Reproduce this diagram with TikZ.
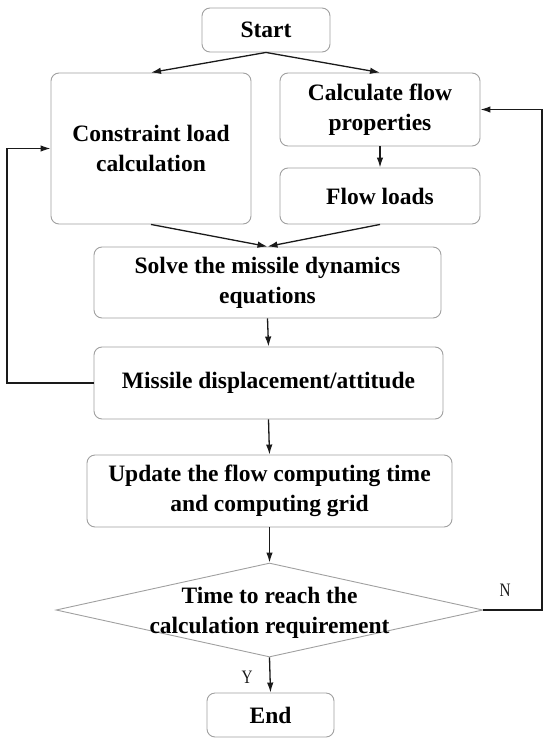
\documentclass[tikz,border=0pt]{standalone}
\usepackage{fontspec}
\setmainfont{Liberation Serif}
\usetikzlibrary{arrows.meta,shapes.geometric,calc}
\definecolor{boxline}{HTML}{A0A0A0}
\definecolor{flowline}{HTML}{1A1A1A}
\tikzset{
  stepbox/.style={draw=boxline, line width=0.9pt, rounded corners=8pt, align=center,
    inner sep=0pt, font=\bfseries\fontsize{23.5}{30}\selectfont},
  decbox/.style={diamond, draw=boxline, line width=0.9pt, inner sep=0pt},
  arr/.style={-{Latex[length=10pt,width=6.5pt]}, line width=1.3pt, draw=flowline},
  yesno/.style={font=\fontsize{19}{19}\selectfont, text=flowline, xscale=0.8}
}

\begin{document}
\begin{tikzpicture}[x=1pt,y=-1pt]
  \useasboundingbox (0,0) rectangle (550,746);
  % boxes
  \node[stepbox, minimum width=128pt, minimum height=44pt] (start) at (266,30) {Start};
  \node[stepbox, minimum width=200pt, minimum height=151pt] (load) at (151,148.5) {Constraint load\\calculation};
  \node[stepbox, minimum width=200pt, minimum height=73pt] (prop) at (380,109.5) {Calculate flow\\properties};
  \node[stepbox, minimum width=200pt, minimum height=56pt] (loads) at (380,196) {Flow loads};
  \node[stepbox, minimum width=347pt, minimum height=71pt] (solve) at (267.5,282.5) {Solve the missile dynamics\\equations};
  \node[stepbox, minimum width=349pt, minimum height=72pt] (disp) at (268.5,383) {Missile displacement/attitude};
  \node[stepbox, minimum width=365pt, minimum height=72pt] (update) at (269.5,491) {Update the flow computing time\\and computing grid};
  \node[decbox, minimum width=427pt, minimum height=94pt,
    label={[stepbox, draw=none, yshift=-3pt]center:Time to reach the\\calculation requirement}] (cond) at (269.5,610) {};
  \node[stepbox, minimum width=127pt, minimum height=44pt] (stop) at (270.5,715) {End};
  \coordinate (loopL) at (7,0);
  \coordinate (loopR) at (542,0);

  % connectors
  \draw[arr] (start.south) -- (load.north);
  \draw[arr] (start.south) -- (prop.north);
  \draw[arr] (prop.south) -- (loads.north);
  \draw[arr] (load.south) -- (solve.north);
  \draw[arr] (loads.south) -- (solve.north);
  \draw[arr] (solve.south) -- (disp.north);
  \draw[arr] (disp.west) -- (disp.west -| loopL) |- (load.west);
  \draw[arr] (disp.south) -- (update.north);
  \draw[arr] (update.south) -- (cond.north);
  \draw[arr] (cond.east) -- (cond.east -| loopR) |- (prop.east);
  \draw[arr] (cond.south) -- (stop.north);
  \node[yesno] (no) at (505,590) {N};
  \node[yesno] (yes) at (247,677) {Y};
\end{tikzpicture}
\end{document}
